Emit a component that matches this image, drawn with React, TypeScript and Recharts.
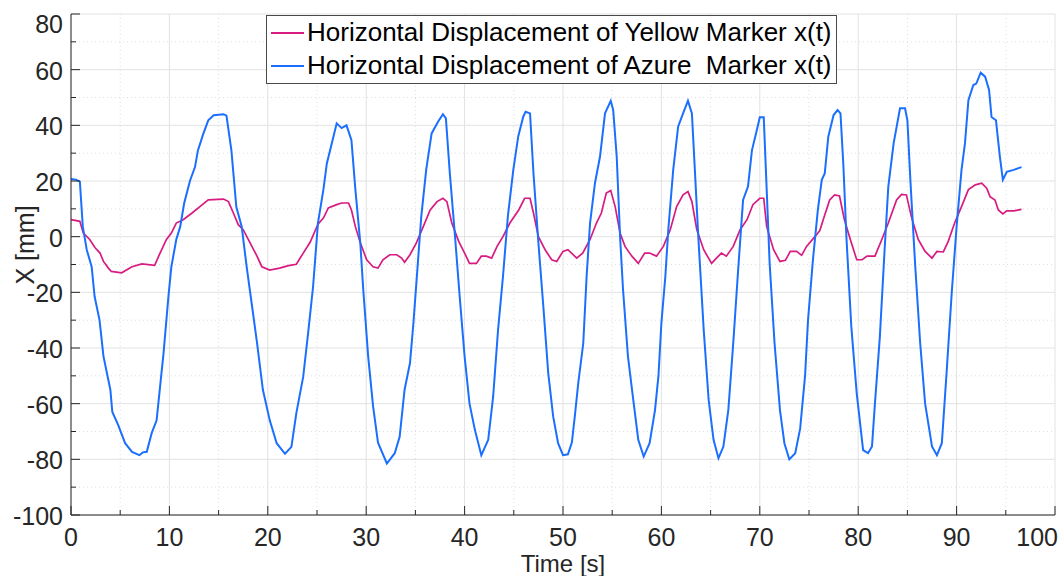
import React from 'react';
import {
  LineChart,
  Line,
  XAxis,
  YAxis,
  CartesianGrid,
} from 'recharts';

// time [s] and horizontal displacement [mm] of the azure marker
const timeAzure = [
  0, 0.5, 0.9, 1.2, 1.6, 2.1, 2.4, 2.9, 3.3, 4.0, 4.2, 4.8, 5.5, 6.2, 6.95, 7.3, 7.7, 8.2, 8.7, 9.05,
  9.4, 9.9, 10.2, 10.7, 11.1, 11.5, 12.1, 12.6, 12.9, 13.45, 13.95, 14.5, 15.0, 15.5, 15.8, 16.3, 16.8, 17.35, 17.85, 18.4,
  18.9, 19.5, 20.2, 20.9, 21.75, 22.4, 22.9, 23.6, 24.1, 24.6, 25.1, 25.65, 26.0, 26.5, 27.0, 27.5, 28.0, 28.5, 28.9, 29.4,
  29.7, 30.2, 30.7, 31.2, 32.1, 32.9, 33.4, 33.9, 34.45, 34.8, 35.3, 35.6, 36.1, 36.65, 37.3, 37.8, 38.1, 38.5, 39.0, 39.5,
  40.0, 40.5, 41.05, 41.7, 42.4, 42.9, 43.4, 43.9, 44.4, 44.95, 45.45, 45.96, 46.2, 46.65, 47.0, 47.5, 48.0, 48.5, 49.0, 49.5,
  50.0, 50.5, 50.9, 51.2, 51.55, 52.06, 52.4, 52.75, 53.25, 53.76, 54.27, 54.85, 55.1, 55.46, 55.8, 56.1, 56.6, 57.1, 57.65, 58.2,
  58.8, 59.35, 59.7, 60.0, 60.4, 60.7, 61.2, 61.7, 62.2, 62.7, 63.1, 63.4, 63.75, 64.3, 64.8, 65.3, 65.8, 66.3, 66.8, 67.3,
  67.8, 68.3, 68.8, 69.2, 69.7, 70.0, 70.4, 70.7, 71.0, 71.5, 72.05, 72.5, 73.0, 73.6, 74.1, 74.6, 74.9, 75.4, 75.9, 76.3,
  76.6, 76.96, 77.5, 77.9, 78.2, 78.5, 78.8, 79.3, 79.85, 80.5, 81.0, 81.4, 81.7, 82.2, 82.7, 83.06, 83.6, 84.25, 84.76, 85.0,
  85.3, 85.8, 86.3, 86.8, 87.5, 88.0, 88.5, 89.0, 89.5, 90.0, 90.5, 90.85, 91.2, 91.7, 92.0, 92.45, 92.9, 93.3, 93.55, 94.0,
  94.4, 94.7, 95.1, 95.8, 96.6,
];
const azureX = [
  20.7, 20.5, 19.8, 3.6, -4.7, -10.8, -21.5, -30, -43, -55, -63, -67.7, -74.2, -77.3, -78.5, -77.5, -77.3, -70.6, -66, -54,
  -42, -21.5, -10.8, -1, 3.6, 12, 20.2, 25, 31, 37, 41.8, 43.6, 43.8, 44, 43.5, 31, 10.7, 3.6, -10.8, -25,
  -38, -55, -66, -74.2, -78, -75.5, -63.4, -50.3, -34.6, -18, 5, 16.9, 26.3, 33.5, 40.7, 39, 40, 34.7, 16.9, -2.2,
  -19, -43, -61, -74, -81.5, -77.8, -71.9, -55, -45.4, -31, -7, 7.4, 24.1, 37.1, 41.3, 44, 42.5, 22.7, 1.3, -21.5,
  -43, -60, -69.5, -78.5, -73, -57.5, -33.5, -14.3, 7.4, 24, 36, 43.1, 44.9, 44.3, 22.7, -2.2, -25, -49, -64.6, -74.2,
  -78.5, -78.2, -74, -64.6, -52.6, -38.3, -14.3, 4.9, 19.3, 28.7, 44.3, 48.8, 45.5, 28.7, 0, -19, -43, -57.5, -73, -79,
  -74.2, -62.3, -50, -31, -14.3, 2.5, 24, 39.5, 44.3, 48.8, 44.3, 24, 0, -33.5, -58.6, -73, -79.6, -75.4, -62.3, -38.3,
  -11.9, 13.2, 18, 31, 38.3, 42.9, 42.9, 16.9, -9.6, -38.3, -62.3, -74.2, -80, -77.8, -69, -50, -30, -8.3, 9.6, 20.4,
  22.7, 35.9, 43.7, 45.5, 44.3, 25.1, 0, -32.3, -56.3, -76.7, -77.8, -75.4, -60, -36, -3.6, 18, 33.5, 46.1, 46.1, 41.8,
  20.4, -10.8, -38.3, -60, -75.4, -78.5, -74.2, -47.9, -20.4, 3.6, 24, 33.5, 49, 54.5, 55, 58.9, 57.5, 52.7, 43, 41.8,
  28.7, 20.4, 23.3, 24, 25,
];

// time [s] and horizontal displacement [mm] of the yellow marker
const timeYellow = [
  0, 0.9, 1.25, 1.9, 2.45, 2.95, 3.3, 3.8, 4.1, 5.15, 6.2, 7.2, 8.5, 9.05, 9.7, 10.2, 10.7, 11.4, 12.3, 13.1,
  13.95, 15.5, 16.0, 16.5, 17.0, 17.5, 18.2, 18.9, 19.4, 20.2, 21.2, 22.1, 22.9, 23.6, 24.3, 25.1, 25.65, 26.15, 27.0, 27.5,
  28.2, 28.5, 28.9, 29.4, 30.05, 30.7, 31.2, 31.7, 32.4, 33.1, 33.6, 33.9, 34.45, 35.1, 35.8, 36.5, 37.2, 37.8, 38.2, 38.7,
  39.4, 40.0, 40.5, 41.2, 41.7, 42.2, 42.75, 43.3, 43.9, 44.6, 45.5, 46.1, 46.65, 47.0, 47.5, 48.2, 48.85, 49.36, 50.0, 50.5,
  51.4, 52.0, 52.75, 53.4, 53.9, 54.4, 54.85, 55.3, 55.8, 56.3, 57.0, 57.65, 58.3, 58.8, 59.5, 60.2, 60.9, 61.55, 62.2, 62.7,
  63.1, 63.6, 64.3, 65.1, 65.6, 66.1, 66.6, 67.3, 68.0, 68.7, 69.3, 70.0, 70.4, 70.7, 71.4, 72.05, 72.6, 73.1, 73.75, 74.25,
  74.75, 75.6, 76.1, 76.5, 77.1, 77.6, 78.1, 78.6, 79.2, 79.85, 80.4, 80.9, 81.7, 82.4, 83.06, 83.9, 84.4, 84.9, 85.4, 86.1,
  86.8, 87.5, 88.0, 88.65, 89.15, 89.8, 90.5, 91.2, 91.9, 92.55, 93.06, 93.4, 93.9, 94.24, 94.7, 95.1, 95.8, 96.6,
];
const yellowX = [
  6.1, 5.5, 1.3, -1, -4, -5.9, -8.9, -11.3, -12.5, -13, -10.8, -9.8, -10.3, -5.9, -1, 1.3, 4.9, 6.1, 8.5, 10.8,
  13.2, 13.5, 12.6, 8.5, 4.3, 2.5, -2.2, -7, -10.8, -12, -11.3, -10.4, -9.9, -5.9, -2, 4.5, 6.7, 10.3, 11.5, 12.1,
  12.1, 9.6, 3.6, -2.2, -8.3, -10.8, -11.3, -8.3, -6.5, -6.5, -7.7, -9.2, -6.5, -2.2, 3.6, 9.6, 12.6, 13.8, 12.6, 4.9,
  -1.7, -5.9, -9.6, -9.6, -7, -7, -7.7, -3.5, 0, 4.9, 9.6, 13.8, 13.8, 8.5, 0, -4.8, -8.3, -8.9, -5.3, -4.7,
  -7.7, -5.9, -1, 4.9, 8.5, 15.7, 16.6, 10.8, 1.3, -3.5, -7, -9.6, -5.9, -5.9, -7, -3.5, 2.5, 10.8, 15, 16.2,
  12.6, 2.5, -4.7, -9.6, -7.7, -5.9, -7, -3.5, 2.5, 6.1, 11.5, 13.8, 13.8, 3.6, -4.7, -8.9, -8.5, -5.3, -5.3, -6.7,
  -3.5, 0, 2.2, 6.7, 13.2, 15, 14.6, 6.1, -1, -8.3, -8.3, -7, -7, -1, 4.9, 13.2, 15.2, 15, 7.2, -1,
  -5.3, -7.7, -5.3, -5.5, -1.7, 4.9, 10.8, 16.9, 18.6, 19.2, 17.4, 14.4, 13.2, 9.6, 8.2, 9.3, 9.3, 9.8,
];

const timeTicks = [0, 10, 20, 30, 40, 50, 60, 70, 80, 90, 100];
const timeMinorTicks = [5, 15, 25, 35, 45, 55, 65, 75, 85, 95];
const xTicks = [-100, -80, -60, -40, -20, 0, 20, 40, 60, 80];
const xMinorTicks = [-90, -70, -50, -30, -10, 10, 30, 50, 70];

const seriesNames = [
  'Horizontal Displacement of Yellow Marker x(t)',
  'Horizontal Displacement of Azure  Marker x(t)',
];

const YELLOW = '#d81b80';
const AZURE = '#1a6fff';
const INK = '#262626';
const FONT = '"Liberation Sans", Arial, sans-serif';
const W = 1060;
const H = 576;

const yellowData = timeYellow.map((t, i) => ({ t, x: yellowX[i] }));
const azureData = timeAzure.map((t, i) => ({ t, x: azureX[i] }));

const allTimeTicks = [...timeTicks, ...timeMinorTicks].sort((a, b) => a - b);
const allXTicks = [...xTicks, ...xMinorTicks].sort((a, b) => a - b);

// ticks point inward; the last time label is kept inside the canvas
const TimeTick = ({ x, y, payload }: any) => {
  const major = timeTicks.includes(payload.value);
  const last = payload.value === timeTicks[timeTicks.length - 1];
  return (
    <g>
      <line x1={x} x2={x} y1={y} y2={y - (major ? 9 : 5)} stroke={INK} strokeWidth={1} />
      {major && (
        <text
          x={last ? W - 2 : x}
          y={y + 31}
          textAnchor={last ? 'end' : 'middle'}
          fontSize={25}
          fontFamily={FONT}
          fill={INK}
        >
          {payload.value}
        </text>
      )}
    </g>
  );
};

const XTick = ({ x, y, payload }: any) => {
  const major = xTicks.includes(payload.value);
  const cy = Math.max(y + 1, 24);
  return (
    <g>
      <line x1={x} x2={x + (major ? 9 : 5)} y1={y} y2={y} stroke={INK} strokeWidth={1} />
      {major && (
        <text x={x - 8} y={cy} dy="0.36em" textAnchor="end" fontSize={25} fontFamily={FONT} fill={INK}>
          {payload.value}
        </text>
      )}
    </g>
  );
};

const LegendBox = () => (
  <div
    style={{
      position: 'absolute',
      left: 266,
      top: 15,
      border: '1px solid #4a4a4a',
      background: '#fff',
      padding: '0 4px 1px 4px',
      fontFamily: FONT,
      fontSize: 26,
      color: '#000',
      lineHeight: '33px',
      whiteSpace: 'pre',
    }}
  >
    {seriesNames.map((name, i) => (
      <div key={name} style={{ display: 'flex', alignItems: 'center' }}>
        <span
          style={{
            display: 'inline-block',
            width: 33,
            height: 2,
            background: i === 0 ? YELLOW : AZURE,
            marginRight: 3,
          }}
        />
        <span>{name}</span>
      </div>
    ))}
  </div>
);

export default function App() {
  return (
    <div style={{ position: 'relative', width: W, height: H, background: '#fff' }}>
      <style>{'body{margin:0}'}</style>
      <LineChart width={W} height={H} margin={{ top: 14, right: 5, bottom: 0, left: 8 }}>
        <CartesianGrid
          horizontalValues={xTicks}
          verticalValues={timeTicks}
          stroke="#e2e2e2"
          strokeWidth={1}
        />
        <CartesianGrid
          horizontalValues={xMinorTicks}
          verticalValues={timeMinorTicks}
          stroke="#dedede"
          strokeWidth={1}
          strokeDasharray="1 3"
        />
        <XAxis
          type="number"
          dataKey="t"
          domain={[0, 100]}
          ticks={allTimeTicks}
          interval={0}
          height={61}
          tickSize={0}
          tickMargin={0}
          tickLine={false}
          axisLine={{ stroke: INK, strokeWidth: 1 }}
          tick={<TimeTick />}
          allowDataOverflow
          label={({ viewBox }: any) => (
            <text
              x={viewBox.x + viewBox.width / 2}
              y={572}
              textAnchor="middle"
              fontSize={24}
              fontFamily={FONT}
              fill={INK}
            >
              Time [s]
            </text>
          )}
        />
        <YAxis
          type="number"
          domain={[-100, 80]}
          ticks={allXTicks}
          interval={0}
          width={63}
          tickSize={0}
          tickMargin={0}
          tickLine={false}
          axisLine={{ stroke: INK, strokeWidth: 1 }}
          tick={<XTick />}
          allowDataOverflow
          label={() => (
            <text
              x={25}
              y={245}
              transform="rotate(-90, 25, 245)"
              textAnchor="middle"
              dy="0.36em"
              fontSize={25}
              fontFamily={FONT}
              fill={INK}
            >
              X [mm]
            </text>
          )}
        />
        <Line
          data={yellowData}
          dataKey="x"
          name={seriesNames[0]}
          type="linear"
          stroke={YELLOW}
          strokeWidth={1.7}
          dot={false}
          activeDot={false}
          isAnimationActive={false}
        />
        <Line
          data={azureData}
          dataKey="x"
          name={seriesNames[1]}
          type="linear"
          stroke={AZURE}
          strokeWidth={2}
          dot={false}
          activeDot={false}
          isAnimationActive={false}
        />
      </LineChart>
      <LegendBox />
    </div>
  );
}
